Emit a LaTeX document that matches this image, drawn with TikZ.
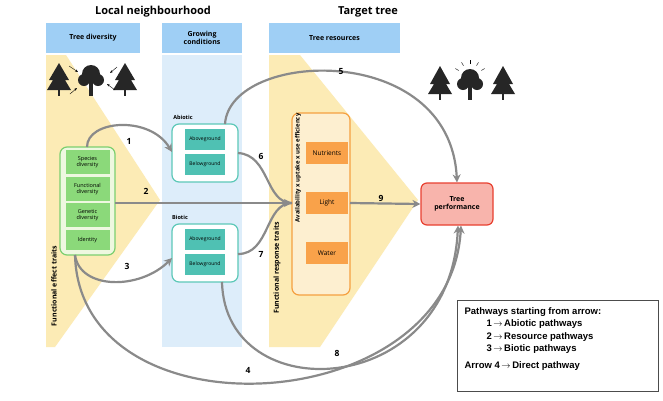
\documentclass[tikz,border=0pt]{standalone}
\usepackage{fontspec}
\setmainfont{Open Sans}
\newfontfamily\lib{Liberation Sans}
\usetikzlibrary{arrows.meta}
\definecolor{hdr}{HTML}{9FCFF5}
\definecolor{colb}{HTML}{DDEDFA}
\definecolor{yel}{HTML}{FCEBB5}
\definecolor{grb}{HTML}{7CCF6F}
\definecolor{grf}{HTML}{8BD97A}
\definecolor{grl}{HTML}{EEF8E0}
\definecolor{teb}{HTML}{5CC8B8}
\definecolor{tef}{HTML}{4FC1B3}
\definecolor{orb}{HTML}{F5A040}
\definecolor{orf}{HTML}{F9A24A}
\definecolor{orl}{HTML}{FDEFD0}
\definecolor{rdb}{HTML}{E84030}
\definecolor{rdf}{HTML}{F8B4AC}
\definecolor{arr}{HTML}{8A8A8A}
\begin{document}
\begin{tikzpicture}[x=1pt,y=-1pt,
 hdrs/.style={fill=hdr,draw=none,font=\bfseries\fontsize{7}{8.5}\selectfont,align=center},
 item/.style={fill=#1,draw=none,minimum width=44pt,font=\fontsize{5.5}{6.5}\selectfont,align=center,inner sep=1pt},
 grp/.style={draw=#1,line width=1.2pt,rounded corners=7pt},
 ar/.style={draw=arr,line width=2.2pt,-{Stealth[length=8pt,width=8pt]}},
 ln/.style={draw=arr,line width=2.2pt},
 num/.style={font=\bfseries\fontsize{8.5}{9}\selectfont},
 sub/.style={font=\bfseries\fontsize{5.5}{6}\selectfont},
 vt/.style={rotate=90,font=\bfseries\fontsize{7}{8}\selectfont},
 tree/.style={fill=black!85,draw=none}]
\useasboundingbox (0,0) rectangle (663,400);
\fill[white] (0,0) rectangle (663,400);
% backgrounds
\fill[colb] (162,55) rectangle (242,347);
\fill[yel] (46,55) -- (66,55) -- (160,200) -- (55,347) -- (46,347) -- cycle;
\fill[yel] (269,55) -- (300,55) -- (418,200) -- (320,347) -- (269,347) -- cycle;
% titles
\node[font=\bfseries\fontsize{11}{13}\selectfont] (t1) at (153,12) {Local neighbourhood};
\node[font=\bfseries\fontsize{11}{13}\selectfont] (t2) at (368,12) {Target tree};
\node[hdrs,minimum width=94pt,minimum height=30pt] (h1) at (93,38) {Tree diversity};
\node[hdrs,minimum width=80pt,minimum height=30pt] (h2) at (202,38) {Growing\\conditions};
\node[hdrs,minimum width=131pt,minimum height=30pt] (h3) at (334.5,38) {Tree resources};
% trees left
\fill[tree] (59,63) -- (49,80) -- (53,80) -- (47,90) -- (71,90) -- (65,80) -- (69,80) -- cycle;
\fill[tree] (58,88) rectangle (60,96);
\fill[tree] (91,74) circle (9) (84,80) circle (6) (98,80) circle (6);
\fill[tree] (89,82) rectangle (93,96);
\fill[tree] (125,63) -- (115,80) -- (119,80) -- (113,90) -- (137,90) -- (131,80) -- (135,80) -- cycle;
\fill[tree] (124,88) rectangle (126,96);
\draw[-{Stealth[length=3pt]},thin] (69,66) -- (78,72);
\draw[-{Stealth[length=3pt]},thin] (70,94) -- (77,88);
\draw[-{Stealth[length=3pt]},thin] (117,67) -- (110,73);
\draw[-{Stealth[length=3pt]},thin] (115,90) -- (107,84);
% trees right
\fill[tree] (440,66) -- (430,84) -- (434,84) -- (428,94) -- (452,94) -- (446,84) -- (450,84) -- cycle;
\fill[tree] (439,92) rectangle (441,100);
\fill[tree] (470,78) circle (9) (463,84) circle (6) (477,84) circle (6);
\fill[tree] (468,86) rectangle (472,100);
\fill[tree] (503,66) -- (493,84) -- (497,84) -- (491,94) -- (515,94) -- (509,84) -- (513,84) -- cycle;
\fill[tree] (502,92) rectangle (504,100);
\foreach \a in {-150,-120,-90,-60,-30}
  \draw[black,thin] (470,77) ++(\a:13) -- ++(\a:4);
% green group
\draw[grp=grb,fill=grl] (60,147) rectangle (115,255);
\node[item=grf,minimum height=24pt] (sd) at (87.5,162) {Species\\diversity};
\node[item=grf,minimum height=24pt] (fd) at (87.5,189) {Functional\\diversity};
\node[item=grf,minimum height=24pt] (gd) at (87.5,215) {Genetic\\diversity};
\node[item=grf,minimum height=20pt] (id) at (87.5,240) {Identity};
\coordinate (gtop) at (87,147);
\coordinate (gright) at (115,203);
\coordinate (gbot) at (75,255);
% abiotic
\node[sub] (abl) at (183,117) {Abiotic};
\draw[grp=teb,fill=white] (172,124) rectangle (238,182);
\node[item=tef,minimum width=40pt,minimum height=21pt,font=\fontsize{5}{6}\selectfont] (aa) at (205,139) {Aboveground};
\node[item=tef,minimum width=40pt,minimum height=21pt,font=\fontsize{5}{6}\selectfont] (ab) at (205,164) {Belowground};
\coordinate (aleft) at (172,152);
\coordinate (atop) at (225,124);
\coordinate (aright) at (238,153);
% biotic
\node[sub] (bil) at (180,217) {Biotic};
\draw[grp=teb,fill=white] (172,224) rectangle (238,282);
\node[item=tef,minimum width=40pt,minimum height=21pt,font=\fontsize{5}{6}\selectfont] (ba) at (205,239) {Aboveground};
\node[item=tef,minimum width=40pt,minimum height=21pt,font=\fontsize{5}{6}\selectfont] (bb) at (205,264) {Belowground};
\coordinate (bleft) at (172,258);
\coordinate (bright) at (238,254);
\coordinate (bbot) at (222,282);
% orange
\draw[grp=orb,fill=orl] (292,113) rectangle (350,295);
\node[item=orf,minimum width=42pt,minimum height=22pt,font=\fontsize{6.5}{7}\selectfont] (nu) at (327,153) {Nutrients};
\node[item=orf,minimum width=42pt,minimum height=22pt,font=\fontsize{6.5}{7}\selectfont] (li) at (327,203) {Light};
\node[item=orf,minimum width=42pt,minimum height=22pt,font=\fontsize{6.5}{7}\selectfont] (wa) at (327,253) {Water};
\node[vt,font=\bfseries\fontsize{6}{7}\selectfont] (av) at (298,168) {Availability x uptake x use efficiency};
\node[vt] (frt) at (277,268) {Functional response traits};
\node[vt] (fet) at (54,286) {Functional effect traits};
\coordinate (oleft) at (292,203);
\coordinate (oright) at (350,203);
% tree performance
\node[draw=rdb,fill=rdf,line width=1.2pt,rounded corners=6pt,minimum width=72pt,minimum height=42pt,align=center,font=\bfseries\fontsize{7}{8.5}\selectfont] (tp) at (457,204) {Tree\\performance};
% arrows
\draw[ar] (gtop) .. controls (87,120) and (150,115) .. (aleft);
\draw[ar] (gright) -- (oleft);
\draw[ar] (gbot) .. controls (80,290) and (140,290) .. (bleft);
\draw[ar] (gbot) .. controls (80,440) and (450,420) .. ([xshift=4pt]tp.south);
\draw[ar] (atop) .. controls (230,50) and (450,40) .. (tp.north);
\draw[ln] (aright) .. controls (270,155) and (265,203) .. (oleft);
\draw[ln] (bright) .. controls (270,254) and (265,203) .. (oleft);
\draw[ar] (bbot) .. controls (225,410) and (450,400) .. ([xshift=1pt]tp.south);
\draw[ar] (oright) -- (tp.west);
\node[num] (n1) at (129,141) {1};
\node[num] (n2) at (146,191) {2};
\node[num] (n3) at (127,266) {3};
\node[num] (n4) at (248,370) {4};
\node[num] (n5) at (341,72) {5};
\node[num] (n6) at (261,156) {6};
\node[num] (n7) at (261,254) {7};
\node[num] (n8) at (337,353) {8};
\node[num] (n9) at (381,198) {9};
% legend
\node[draw=black!70,line width=0.6pt,fill=white,minimum width=201pt,minimum height=91pt] (leg) at (557.5,345.5) {};
\node[anchor=north west,align=left,font=\lib\bfseries\fontsize{9.5}{12.5}\selectfont] (legt) at (461,304) {Pathways starting from arrow:\\
\hspace*{22pt}1\,$\rightarrow$\,Abiotic pathways\\
\hspace*{22pt}2\,$\rightarrow$\,Resource pathways\\
\hspace*{22pt}3\,$\rightarrow$\,Biotic pathways\\[4pt]
Arrow 4\,$\rightarrow$\,Direct pathway};
\end{tikzpicture}
\end{document}
